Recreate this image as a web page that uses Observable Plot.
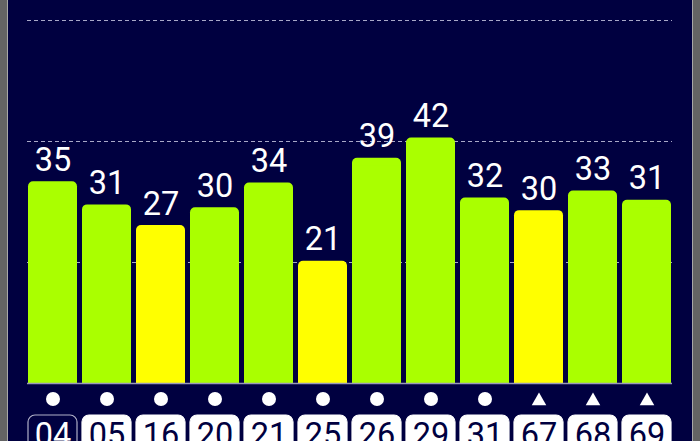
<!DOCTYPE html>
<html>
<head>
<meta charset="utf-8">
<script src="https://cdn.jsdelivr.net/npm/d3@7"></script>
<script src="https://cdn.jsdelivr.net/npm/@observablehq/plot@0.6"></script>
<style>
  html, body { margin: 0; padding: 0; }
  body { width: 700px; height: 441px; background: #646464; position: relative; overflow: hidden; }
  #chart { position: absolute; left: 7px; top: 0; border-left: 1px solid #a8a8a8; border-right: 1px solid #a8a8a8; }
  #chart svg { display: block; }
</style>
</head>
<body>
<div id="chart"></div>
<script>
const ids = ["04","05","16","20","21","25","26","29","31","67","68","69"];
const values = [35.0, 31.0, 27.4, 30.5, 34.8, 21.2, 39.1, 42.6, 32.2, 30.0, 33.4, 31.8];
const labels = ["35","31","27","30","34","21","39","42","32","30","33","31"];
const status = ["g","g","y","g","g","y","g","g","g","y","g","g"];
const shapes = ["circle","circle","circle","circle","circle","circle","circle","circle","circle","triangle","triangle","triangle"];
const selectedId = "04";
const gridValues = [21, 42, 63];

const data = ids.map((id, i) => ({id, value: values[i], label: labels[i], status: status[i], shape: shapes[i], selected: id === selectedId}));
const circles = data.filter(d => d.shape === "circle");
const triangles = data.filter(d => d.shape === "triangle");

const NAVY = "#000040";
const colorOf = d => d.status === "y" ? "#ffff00" : "#aaff00";

const chart = Plot.plot({
  width: 684,
  height: 441,
  marginLeft: 19,
  marginRight: 20,
  marginTop: 20,
  marginBottom: 58,
  style: {background: NAVY, color: "white", fontFamily: "Roboto, sans-serif"},
  x: {domain: ids, paddingInner: 0.09, paddingOuter: 0, axis: null},
  y: {domain: [0, 63], axis: null},
  marks: [
    Plot.ruleY(gridValues, {stroke: "#a8a8c8", strokeWidth: 1, strokeDasharray: "4,3"}),
    Plot.barY(data, {x: "id", y: "value", fill: colorOf, rx: 5}),
    Plot.barY(data, {x: "id", y: "value", fill: colorOf, insetTop: 8}),
    Plot.ruleY([0], {stroke: "#9a9ab8", strokeWidth: 1.3}),
    Plot.text(data, {x: "id", y: "value", text: "label", dy: -11, lineAnchor: "bottom", fill: "white", fontSize: 32.5}),
    Plot.dot(circles, {x: "id", frameAnchor: "bottom", dy: 15.5, r: 7, fill: "white", stroke: null, symbol: "circle"}),
    Plot.dot(triangles, {x: "id", frameAnchor: "bottom", dy: 17.5, r: 5.4, fill: "white", stroke: null, symbol: "triangle"}),
    Plot.barY(data, {x: "id", y1: 0, y2: 0, insetTop: 0, insetBottom: -45, dy: 32, rx: 7,
      fill: d => d.selected ? NAVY : "white", stroke: d => d.selected ? "#b0b0c8" : "white", strokeWidth: 1.2}),
    Plot.text(data, {x: "id", frameAnchor: "bottom", text: "id", dy: 62, lineAnchor: "bottom", fontSize: 32.5,
      fill: d => d.selected ? "white" : NAVY})
  ]
});
document.getElementById("chart").appendChild(chart);
</script>
</body>
</html>
